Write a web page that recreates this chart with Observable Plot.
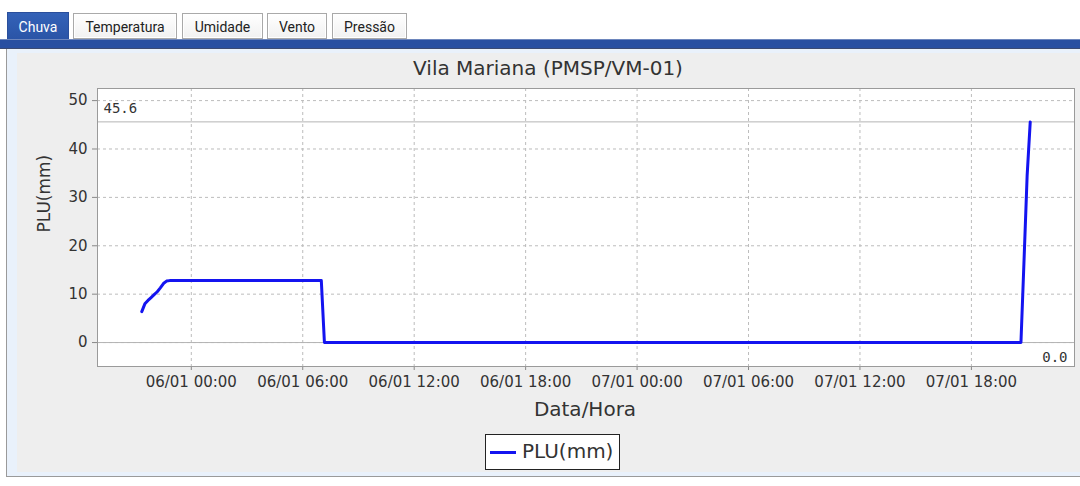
<!DOCTYPE html>
<html><head><meta charset="utf-8">
<script src="https://cdn.jsdelivr.net/npm/d3@7"></script>
<script src="https://cdn.jsdelivr.net/npm/@observablehq/plot@0.6"></script>
<style>
html,body{margin:0;padding:0;background:#fff;width:1080px;height:486px;overflow:hidden;font-family:"DejaVu Sans",sans-serif;}
#root{position:relative;width:1080px;height:486px;}
.tab{position:absolute;box-sizing:border-box;font-family:Roboto,sans-serif;font-size:14px;color:#222;text-align:center;line-height:26px;
  border:1px solid #a9a9a9;box-shadow:inset 0 0 0 1px #fff;background:linear-gradient(#ffffff,#f1f1f1);}
.tab.sel{background:linear-gradient(#3462b8,#2a54a6);color:#fff;border-color:#2a4f9c;box-shadow:none;}
#bar{position:absolute;left:0;top:39px;width:1080px;height:10px;background:#284fa1;border-top:1px solid #6d86bd;border-bottom:1px solid #3b4a72;box-sizing:border-box;}
#panel{position:absolute;left:6px;top:49px;width:1074px;height:428px;box-sizing:border-box;border-left:1px solid #9a9a9a;border-bottom:1px solid #9a9a9a;background:#e9f1fb;}
#inner{position:absolute;left:10px;top:4px;right:0;bottom:4px;background:#eeeeee;}
#title{position:absolute;left:16px;width:1064px;top:58px;text-align:center;font-size:20px;line-height:20px;color:#333;}
#chart{position:absolute;left:0;top:53px;}
#legend{position:absolute;left:485px;top:434px;width:135px;height:36px;box-sizing:border-box;border:1px solid #222;background:#fff;}
#legend .sw{position:absolute;left:4px;top:16px;width:26px;height:3px;background:#1414f0;}
#legend .lb{position:absolute;left:36px;top:5px;font-size:20px;line-height:22px;color:#333;}
</style></head>
<body><div id="root">
<div class="tab sel" style="left:7px;top:12px;width:62px;height:29px;line-height:28px;">Chuva</div>
<div class="tab" style="left:73px;top:13px;width:104px;height:26px;">Temperatura</div>
<div class="tab" style="left:182px;top:13px;width:81px;height:26px;">Umidade</div>
<div class="tab" style="left:267px;top:13px;width:60px;height:26px;">Vento</div>
<div class="tab" style="left:332px;top:13px;width:75px;height:26px;">Pressão</div>
<div id="bar"></div>
<div id="panel"><div id="inner"></div></div>
<div id="title">Vila Mariana (PMSP/VM-01)</div>
<div id="chart"></div>
<div id="legend"><div class="sw"></div><div class="lb">PLU(mm)</div></div>
</div>
<script>
// Series: accumulated rainfall PLU(mm), Vila Mariana (PMSP/VM-01)
const times = [
  "2019-01-05T21:20Z","2019-01-05T21:30Z","2019-01-05T21:40Z","2019-01-05T21:50Z",
  "2019-01-05T22:00Z","2019-01-05T22:10Z","2019-01-05T22:20Z","2019-01-05T22:30Z",
  "2019-01-05T22:40Z","2019-01-05T22:50Z","2019-01-06T07:00Z","2019-01-06T07:10Z",
  "2019-01-07T20:40Z","2019-01-07T20:50Z","2019-01-07T21:00Z","2019-01-07T21:10Z"
];
const values = [6.4, 8.0, 8.7, 9.3, 9.9, 10.5, 11.3, 12.2, 12.7, 12.8, 12.8, 0.0, 0.0, 17.0, 34.5, 45.6];
const xTicks = ["2019-01-06T00:00Z","2019-01-06T06:00Z","2019-01-06T12:00Z","2019-01-06T18:00Z",
                "2019-01-07T00:00Z","2019-01-07T06:00Z","2019-01-07T12:00Z","2019-01-07T18:00Z"];
const xDomain = ["2019-01-05T18:57Z","2019-01-07T23:33Z"];
const yTicks = [0, 10, 20, 30, 40, 50];
const yDomain = [-4.95, 52.5];
const seriesName = "PLU(mm)";
const xLabel = "Data/Hora";

const data = times.map((t, i) => ({t: new Date(t), v: values[i]}));
const maxV = d3.max(values), minV = d3.min(values);
const xt = xTicks.map(d => new Date(d));

const chart = Plot.plot({
  width: 1080, height: 372,
  marginLeft: 97, marginRight: 6, marginTop: 35, marginBottom: 59,
  style: {background: "transparent", fontFamily: "'DejaVu Sans', sans-serif", fontSize: "15px", color: "#333", overflow: "visible"},
  x: {type: "utc", domain: xDomain.map(d => new Date(d))},
  y: {domain: yDomain},
  marks: [
    Plot.frame({fill: "#fff", stroke: null}),
    Plot.gridX(xt, {stroke: "#bcbcbc", strokeOpacity: 1, strokeDasharray: "3,3"}),
    Plot.gridY(yTicks, {stroke: "#bcbcbc", strokeOpacity: 1, strokeDasharray: "3,3"}),
    Plot.ruleY([maxV, minV], {stroke: "#b4b4b4", strokeWidth: 1}),
    Plot.text([maxV], {y: d => d, text: d => d.toFixed(1), frameAnchor: "left", textAnchor: "start", dx: 6, dy: -13.5,
      fontFamily: "'DejaVu Sans Mono', monospace", fontSize: 14, fill: "#333"}),
    Plot.text([minV], {y: d => d, text: d => d.toFixed(1), frameAnchor: "right", textAnchor: "end", dx: -7, dy: 15,
      fontFamily: "'DejaVu Sans Mono', monospace", fontSize: 14, fill: "#333"}),
    Plot.line(data, {x: "t", y: "v", stroke: "#1414f0", strokeWidth: 3, strokeLinejoin: "round"}),
    Plot.axisX(xt, {tickFormat: d3.utcFormat("%d/%m %H:%M"), tickSize: 4, tickPadding: 6, label: null, stroke: "#888", fill: "#333"}),
    Plot.axisY(yTicks, {tickSize: 5, tickPadding: 5, label: null, stroke: "#888", fill: "#333"}),
    Plot.frame({stroke: "#9a9a9a"}),
    Plot.text([seriesName], {text: d => d, frameAnchor: "left", rotate: -90, dx: -53, dy: 5, fontSize: 17, fill: "#333"}),
    Plot.text([xLabel], {text: d => d, frameAnchor: "bottom", lineAnchor: "top", dy: 35, dx: -1, fontSize: 20, fill: "#333"})
  ]
});
document.getElementById("chart").appendChild(chart);
</script>
</body></html>
